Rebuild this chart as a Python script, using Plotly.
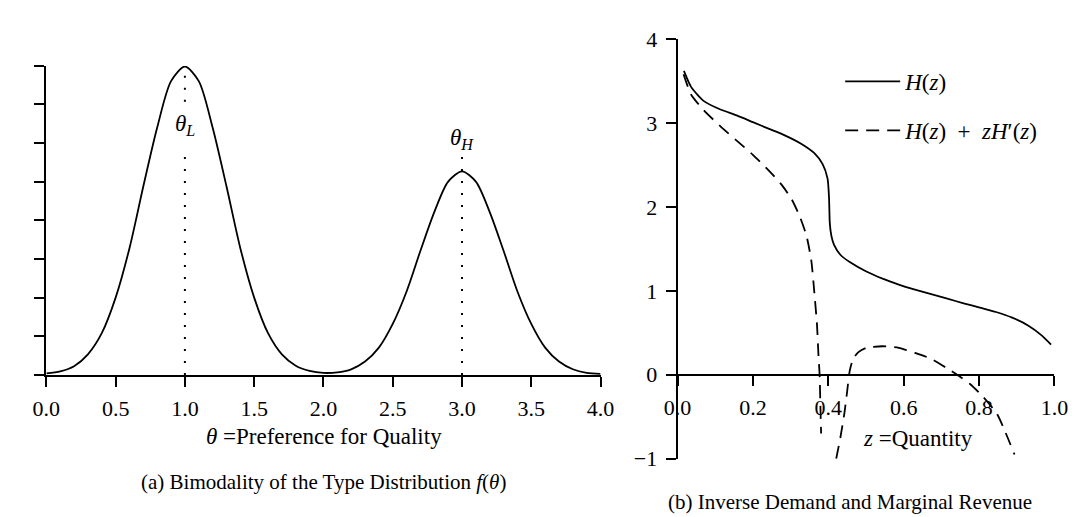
import plotly.graph_objects as go

# ---------------- data ----------------
# panel (a): type distribution f(theta)
theta = [0.0, 0.1, 0.2, 0.3, 0.4, 0.5, 0.6, 0.7, 0.8, 0.9, 1.0,
         1.1, 1.2, 1.3, 1.4, 1.5, 1.6, 1.7, 1.8, 1.9, 2.0,
         2.1, 2.2, 2.3, 2.4, 2.5, 2.6, 2.7, 2.8, 2.9, 3.0,
         3.1, 3.2, 3.3, 3.4, 3.5, 3.6, 3.7, 3.8, 3.9, 4.0]
f_theta = [0.003, 0.007, 0.017, 0.040, 0.081, 0.150, 0.246, 0.366, 0.480, 0.570, 0.598,
           0.570, 0.480, 0.366, 0.246, 0.150, 0.081, 0.040, 0.018, 0.008, 0.004,
           0.005, 0.011, 0.026, 0.053, 0.099, 0.162, 0.241, 0.316, 0.375, 0.395,
           0.375, 0.316, 0.241, 0.162, 0.099, 0.053, 0.026, 0.011, 0.004, 0.002]
modes = [1.0, 3.0]
mode_labels = ["<i>θ<sub>L</sub></i>", "<i>θ<sub>H</sub></i>"]
theta_ticks = [0.0, 0.5, 1.0, 1.5, 2.0, 2.5, 3.0, 3.5, 4.0]
theta_ticktext = ["0.0", "0.5", "1.0", "1.5", "2.0", "2.5", "3.0", "3.5", "4.0"]
f_ticks = [0, 0.075, 0.15, 0.225, 0.3, 0.375, 0.45, 0.525, 0.6]

# panel (b): inverse demand H(z) and marginal revenue H(z)+zH'(z)
z_H = [0.017, 0.036, 0.07, 0.114, 0.157, 0.2, 0.243, 0.286, 0.329, 0.363, 0.385,
       0.398, 0.402, 0.404, 0.408, 0.415, 0.432, 0.458, 0.501, 0.544, 0.587, 0.63,
       0.673, 0.716, 0.759, 0.802, 0.845, 0.888, 0.931, 0.966, 0.991]
H = [3.62, 3.43, 3.26, 3.16, 3.09, 3.01, 2.93, 2.85, 2.75, 2.64, 2.51,
     2.34, 2.11, 1.81, 1.66, 1.55, 1.43, 1.34, 1.23, 1.145, 1.075, 1.015,
     0.96, 0.906, 0.852, 0.80, 0.748, 0.68, 0.585, 0.47, 0.36]
z_MR = [0.016, 0.036, 0.07, 0.114, 0.157, 0.2, 0.243, 0.277, 0.303, 0.324, 0.342,
        0.355, 0.363, 0.37, 0.374, 0.377, 0.379, 0.381, None,
        0.421, 0.432, 0.443, 0.45, 0.457, 0.466, 0.48, 0.50, 0.544, 0.587, 0.63,
        0.673, 0.716, 0.742, 0.776, 0.81, 0.848, 0.894]
MR = [3.58, 3.34, 3.15, 2.96, 2.79, 2.62, 2.43, 2.26, 2.09, 1.89, 1.66,
      1.36, 0.98, 0.60, 0.23, 0.0, -0.35, -0.70, None,
      -1.0, -0.75, -0.45, -0.2, 0.05, 0.19, 0.27, 0.32, 0.34, 0.32, 0.26,
      0.19, 0.075, 0.0, -0.11, -0.26, -0.47, -0.95]
z_ticks = [0.0, 0.2, 0.4, 0.6, 0.8, 1.0]
z_ticktext = ["0.0", "0.2", "0.4", "0.6", "0.8", "1.0"]
p_ticks = [-1, 0, 1, 2, 3, 4]
p_ticktext = ["−1", "0", "1", "2", "3", "4"]

# ---------------- figure ----------------
W, Hh = 1077, 517
FONT = "Liberation Serif"
TICK_FS = 22
fig = go.Figure()

fig.add_trace(go.Scatter(x=theta, y=f_theta, mode="lines", line=dict(color="black", width=1.8, shape="spline", smoothing=0.8),
                         xaxis="x", yaxis="y", showlegend=False, hoverinfo="skip"))
# dotted mode markers (split around labels)
upper_top = [0.596, None]
upper_bot = [0.530, None]
lower_top = [0.430, 0.428]
for i, m in enumerate(modes):
    if upper_top[i] is not None:
        fig.add_trace(go.Scatter(x=[m, m], y=[upper_bot[i], upper_top[i]], mode="lines",
                                 line=dict(color="black", width=2, dash="2px,10px"),
                                 xaxis="x", yaxis="y", showlegend=False, hoverinfo="skip"))
    fig.add_trace(go.Scatter(x=[m, m], y=[0, lower_top[i]], mode="lines",
                             line=dict(color="black", width=2, dash="2px,10px"),
                             xaxis="x", yaxis="y", showlegend=False, hoverinfo="skip"))
label_y = [0.485, 0.458]
for i, m in enumerate(modes):
    fig.add_annotation(x=m, y=label_y[i], xref="x", yref="y", text=mode_labels[i], showarrow=False,
                       font=dict(family=FONT, size=23, color="black"), xanchor="center", yanchor="middle")

fig.add_trace(go.Scatter(x=z_H, y=H, mode="lines", name="<i>H</i>(<i>z</i>)", legendgroup="a",
                         line=dict(color="black", width=1.8, shape="spline", smoothing=0.6),
                         xaxis="x2", yaxis="y2", hoverinfo="skip"))
fig.add_trace(go.Scatter(x=z_MR, y=MR, mode="lines", name="<i>H</i>(<i>z</i>)\u2002+\u2002<i>zH</i>′(<i>z</i>)", legendgroup="b",
                         line=dict(color="black", width=1.8, dash="13px,8px", shape="spline", smoothing=0.6),
                         connectgaps=False, xaxis="x2", yaxis="y2", hoverinfo="skip"))

axis_common = dict(showgrid=False, zeroline=False, showline=True, linecolor="black", linewidth=1.8,
                   ticks="outside", ticklen=10, tickwidth=1.8, tickcolor="black",
                   tickfont=dict(family=FONT, size=TICK_FS, color="black"))

ax_y = (Hh - 373) / Hh
fig.update_layout(
    width=W, height=Hh, margin=dict(l=0, r=0, t=0, b=0),
    paper_bgcolor="white", plot_bgcolor="white",
    xaxis=dict(domain=[25 / W, 594 / W], range=[0, 4], anchor="y", tickvals=theta_ticks, ticktext=theta_ticktext,
               ticklabelstandoff=3, **axis_common),
    yaxis=dict(domain=[ax_y, (Hh - 48) / Hh], range=[0, 0.6], anchor="x", tickvals=f_ticks, showticklabels=False,
               **axis_common),
    xaxis2=dict(domain=[673 / W, 1060 / W], range=[0, 1], anchor="free", position=ax_y, tickvals=z_ticks,
                ticktext=z_ticktext, ticklabelstandoff=3, **axis_common),
    yaxis2=dict(domain=[(Hh - 461) / Hh, (Hh - 20) / Hh], range=[-1, 4], anchor="x2", tickvals=p_ticks,
                ticktext=p_ticktext, ticklabelstandoff=4, **axis_common),
    showlegend=True,
    legend=dict(x=840 / W, y=(Hh - 42) / Hh, xanchor="left", yanchor="top", bgcolor="rgba(0,0,0,0)",
                font=dict(family=FONT, size=23, color="black"), tracegroupgap=16, traceorder="grouped",
                itemwidth=55),
)

texts = [
    ("<i>θ</i> =Preference for Quality", 310, 438, 23),
    ("(a) Bimodality of the Type Distribution <i>f</i>(<i>θ</i>)", 310, 485, 21),
    ("<i>z</i> =Quantity", 920, 440, 23),
    ("(b) Inverse Demand and Marginal Revenue", 850, 506, 21),
]
for t, px, py, fs in texts:
    fig.add_annotation(x=px / W, y=(Hh - py) / Hh, xref="paper", yref="paper", text=t, showarrow=False,
                       font=dict(family=FONT, size=fs, color="black"), xanchor="center", yanchor="middle")

fig.write_html("out.html")
